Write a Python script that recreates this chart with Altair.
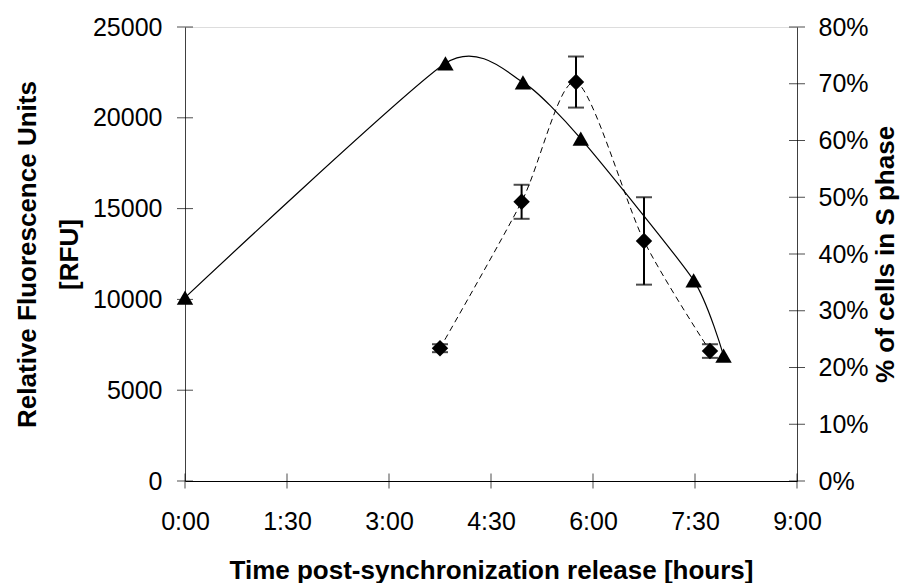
import altair as alt
import pandas as pd

# ---- data ----
rfu_time = [0.0, 3.83, 4.97, 5.82, 7.48, 7.92]          # hours
rfu_vals = [10100, 23000, 21950, 18850, 11050, 6900]    # RFU

s_time = [3.75, 4.95, 5.75, 6.75, 7.72]                 # hours
s_pct = [23.4, 49.2, 70.3, 42.3, 22.9]                  # % of cells in S phase
s_err = [0.7, 3.0, 4.5, 7.7, 1.2]                       # +/- error

x_ticks = [0, 1.5, 3, 4.5, 6, 7.5, 9]
left_ticks = [0, 5000, 10000, 15000, 20000, 25000]
right_ticks = [0, 10, 20, 30, 40, 50, 60, 70, 80]

W, H = 612, 454
FONT = "Liberation Sans"

rfu_df = pd.DataFrame({"t": rfu_time, "rfu": rfu_vals})
s_df = pd.DataFrame({"t": s_time, "pct": s_pct, "err": s_err})
s_df["lo"] = s_df["pct"] - s_df["err"]
s_df["hi"] = s_df["pct"] + s_df["err"]
xt_df = pd.DataFrame({"t": x_ticks})
lt_df = pd.DataFrame({"rfu": left_ticks})
rt_df = pd.DataFrame({"pct": right_ticks})

x_enc = alt.X(
    "t:Q",
    scale=alt.Scale(domain=[0, 9], nice=False, zero=False),
    axis=alt.Axis(
        values=x_ticks,
        labelExpr="floor(datum.value) + ':' + (datum.value % 1 == 0 ? '00' : '30')",
        labelFlush=False, labelOverlap=False,
        ticks=False, grid=False, domain=True, domainColor="black", domainWidth=1,
        labelFontSize=25, labelColor="black", labelPadding=28, labelFont=FONT,
        title="Time post-synchronization release [hours]",
        titleFontSize=26, titleFont=FONT, titleFontWeight="bold", titleColor="black",
        titleX=W / 2, titleY=97, titleAlign="center", titleBaseline="alphabetic",
    ),
)


def left_y(field):
    return alt.Y(
        f"{field}:Q",
        scale=alt.Scale(domain=[0, 25000], nice=False),
        axis=alt.Axis(
            orient="left", values=left_ticks, format="d",
            labelFlush=False, labelOverlap=False,
            ticks=False, grid=False, domain=True, domainColor="#404040", domainWidth=1,
            labelFontSize=25, labelColor="black", labelPadding=23, labelFont=FONT,
            title=["Relative Fluorescence Units", "[RFU]"],
            titleFontSize=26, titleFont=FONT, titleFontWeight="bold", titleColor="black",
            titleAngle=-90, titleX=-150, titleY=H / 2, titleAlign="center",
            titleBaseline="alphabetic", titleLineHeight=42,
        ),
    )


def right_y(field):
    return alt.Y(
        f"{field}:Q",
        scale=alt.Scale(domain=[0, 80], nice=False),
        axis=alt.Axis(
            orient="right", values=right_ticks, labelExpr="datum.value + '%'",
            labelFlush=False, labelOverlap=False,
            ticks=False, grid=False, domain=True, domainColor="#404040", domainWidth=1,
            labelFontSize=25, labelColor="black", labelPadding=21, labelFont=FONT,
            title="% of cells in S phase",
            titleFontSize=26, titleFont=FONT, titleFontWeight="bold", titleColor="black",
            titleAngle=-90, titleX=96, titleY=H / 2, titleAlign="center",
            titleBaseline="alphabetic",
        ),
    )


# ---- left (RFU) group ----
rfu_line = alt.Chart(rfu_df).mark_line(
    color="black", strokeWidth=1.2, interpolate="cardinal", tension=0.4
).encode(x=x_enc, y=left_y("rfu"))
rfu_pts = alt.Chart(rfu_df).mark_point(
    shape="triangle-up", filled=True, color="black", size=270, opacity=1
).encode(x=x_enc, y=left_y("rfu"))
left_tk = alt.Chart(lt_df).mark_tick(
    orient="horizontal", size=16, thickness=1, color="black"
).encode(y=left_y("rfu"), x=alt.value(0))
x_tk = alt.Chart(xt_df).mark_tick(
    orient="vertical", size=15, thickness=1, color="black"
).encode(x=x_enc, y=alt.value(H))

left = alt.layer(rfu_line, rfu_pts, left_tk, x_tk)

# ---- right (% S phase) group ----
s_line = alt.Chart(s_df).mark_line(
    color="black", strokeWidth=1, strokeDash=[6, 4], interpolate="cardinal", tension=0.2
).encode(x=x_enc, y=right_y("pct"))
s_bar = alt.Chart(s_df).mark_rule(color="black", strokeWidth=2).encode(
    x=x_enc, y=right_y("lo"), y2="hi:Q"
)
s_caps = alt.Chart(s_df).transform_fold(["lo", "hi"], as_=["k", "capv"]).mark_tick(
    orient="horizontal", size=16, thickness=2, color="black"
).encode(x=x_enc, y=right_y("capv"))
s_pts = alt.Chart(s_df).mark_point(
    shape="diamond", filled=True, color="black", size=270, opacity=1
).encode(x=x_enc, y=right_y("pct"))
right_tk = alt.Chart(rt_df).mark_tick(
    orient="horizontal", size=16, thickness=1, color="black"
).encode(y=right_y("pct"), x=alt.value(W))

right = alt.layer(s_line, s_bar, s_caps, s_pts, right_tk)

chart = (
    alt.layer(left, right)
    .resolve_scale(y="independent")
    .properties(
        width=W,
        height=H,
        autosize=alt.AutoSizeParams(type="none"),
        padding={"left": 185, "top": 27, "right": 114, "bottom": 102},
        background="white",
    )
    .configure_view(stroke=None)
    .configure(font=FONT)
)

chart.save("out.html", embed_options={"renderer": "svg", "actions": False})
